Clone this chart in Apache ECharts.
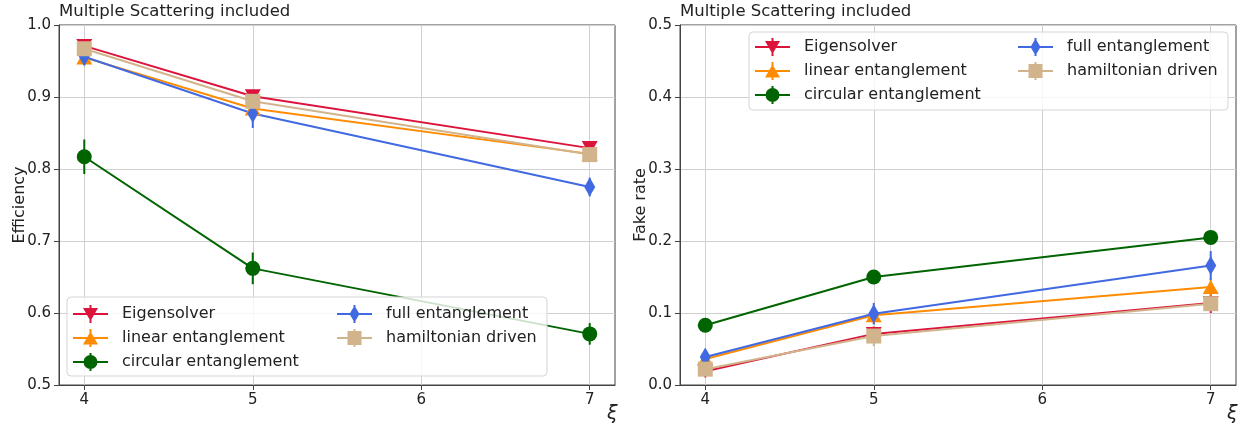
<!DOCTYPE html>
<html>
<head>
<meta charset="utf-8">
<script src="https://cdn.jsdelivr.net/npm/echarts@6/dist/echarts.min.js"></script>
<style>
  html, body { margin: 0; padding: 0; background: #fff; }
  #chart { width: 1244px; height: 427px; }
</style>
</head>
<body>
<div id="chart"></div>
<script>
const xi = [4, 5, 7]
const xTicks = [4, 5, 6, 7]
const names = ['Eigensolver', 'linear entanglement', 'circular entanglement', 'full entanglement', 'hamiltonian driven']

// efficiency (left)
const effEigen = [0.971, 0.901, 0.829]
const effLinear = [0.955, 0.884, 0.821]
const effCircular = [0.817, 0.662, 0.571]
const effFull = [0.956, 0.877, 0.775]
const effHamilton = [0.967, 0.894, 0.820]
const effEigenErr = [0.008, 0.008, 0.007]
const effLinearErr = [0.010, 0.012, 0.010]
const effCircularErr = [0.024, 0.022, 0.015]
const effFullErr = [0.012, 0.020, 0.013]
const effHamiltonErr = [0.008, 0.009, 0.008]

// fake rate (right)
const fakeEigen = [0.019, 0.071, 0.114]
const fakeLinear = [0.036, 0.097, 0.136]
const fakeCircular = [0.083, 0.150, 0.205]
const fakeFull = [0.039, 0.099, 0.166]
const fakeHamilton = [0.022, 0.068, 0.113]
const fakeEigenErr = [0.008, 0.010, 0.014]
const fakeLinearErr = [0.008, 0.012, 0.012]
const fakeCircularErr = [0.006, 0.008, 0.006]
const fakeFullErr = [0.008, 0.015, 0.020]
const fakeHamiltonErr = [0.008, 0.014, 0.010]

const colors = ['#dc143c', '#ff8c00', '#006400', '#4169e1', '#d2b48c']
const symbols = ['triangle', 'triangle', 'circle', 'diamond', 'rect']
const symbolRot = [180, 0, 0, 0, 0]
const symbolSizes = [[16, 14], [16, 14], 15, [11, 19], 15]

// legend icons: line + error bar + marker, drawn in a 35x18 box
const bars = 'M0 8 H35 V10 H0 Z M16.5 0 H18.5 V18 H16.5 Z '
const legendIcons = [
  'path://' + bars + 'M10 3 L25 3 L17.5 16 Z',
  'path://' + bars + 'M10 15.5 L17.5 2.5 L25 15.5 Z',
  'path://' + bars + 'M10.5 9 A7 7 0 1 1 24.5 9 A7 7 0 1 1 10.5 9 Z',
  'path://' + bars + 'M17.5 0.5 L22.5 9 L17.5 17.5 L12.5 9 Z',
  'path://' + bars + 'M10.5 2 H24.5 V16 H10.5 Z'
]

const effSets = [[effEigen, effEigenErr], [effLinear, effLinearErr], [effCircular, effCircularErr], [effFull, effFullErr], [effHamilton, effHamiltonErr]]
const fakeSets = [[fakeEigen, fakeEigenErr], [fakeLinear, fakeLinearErr], [fakeCircular, fakeCircularErr], [fakeFull, fakeFullErr], [fakeHamilton, fakeHamiltonErr]]

const FONT = 'DejaVu Sans'
const chart = echarts.init(document.getElementById('chart'))

const buildSeries = (sets, axisIdx) => {
  const out = []
  sets.forEach(([vals, errs], i) => {
    // error bars
    out.push({
      type: 'custom',
      xAxisIndex: axisIdx,
      yAxisIndex: axisIdx,
      silent: true,
      data: xi.map((x, k) => [x, vals[k], errs[k]]),
      renderItem: (params, api) => {
        const p1 = api.coord([api.value(0), api.value(1) - api.value(2)])
        const p2 = api.coord([api.value(0), api.value(1) + api.value(2)])
        return {
          type: 'line',
          shape: { x1: p1[0], y1: p1[1], x2: p2[0], y2: p2[1] },
          style: { stroke: colors[i], lineWidth: 2 }
        }
      }
    })
    out.push({
      name: names[i],
      type: 'line',
      xAxisIndex: axisIdx,
      yAxisIndex: axisIdx,
      data: xi.map((x, k) => [x, vals[k]]),
      symbol: symbols[i],
      symbolRotate: symbolRot[i],
      symbolSize: symbolSizes[i],
      showAllSymbol: true,
      color: colors[i],
      lineStyle: { color: colors[i], width: 2 },
      itemStyle: { color: colors[i] },
      emphasis: { disabled: true }
    })
  })
  return out
}

const xAxisBase = (gridIndex) => ({
  type: 'value',
  gridIndex,
  min: 3.85,
  max: 7.15,
  axisLine: { show: true, lineStyle: { color: '#444' } },
  axisTick: { show: true, length: 5, lineStyle: { color: '#444' }, customValues: xTicks },
  axisLabel: { color: '#222', fontSize: 15, fontFamily: FONT, margin: 8, customValues: xTicks },
  splitLine: { show: true, lineStyle: { color: '#d0d0d0' } }
})

const yAxisBase = (gridIndex, min, max, title) => ({
  type: 'value',
  gridIndex,
  min,
  max,
  interval: 0.1,
  name: title,
  nameLocation: 'middle',
  nameGap: 31,
  nameMoveOverlap: false,
  nameTextStyle: { color: '#222', fontSize: 16, fontFamily: FONT },
  axisLine: { show: true, lineStyle: { color: '#444' } },
  axisTick: { show: true, length: 5, lineStyle: { color: '#444' } },
  axisLabel: { color: '#222', fontSize: 15, fontFamily: FONT, margin: 8, formatter: v => v.toFixed(1) },
  splitLine: { show: true, lineStyle: { color: '#d0d0d0' } }
})

const legendBase = (left, top, idx) => ({
  orient: 'vertical',
  left,
  top,
  data: idx.map(i => ({ name: names[i], icon: legendIcons[i] })),
  padding: 0,
  itemWidth: 35,
  itemHeight: 18,
  itemGap: 6,
  z: 60,
  selectedMode: false,
  itemStyle: { borderWidth: 0 },
  textStyle: { color: '#222', fontSize: 16, fontFamily: FONT, lineHeight: 18, padding: [0, 0, 0, 9] }
})

const titleStyle = { color: '#222', fontSize: 16.5, fontWeight: 'normal', fontFamily: FONT }

const option = {
  animation: false,
  backgroundColor: '#fff',
  title: [
    { text: 'Multiple Scattering included', left: 59, top: 3, padding: 0, textStyle: titleStyle },
    { text: 'Multiple Scattering included', left: 680, top: 3, padding: 0, textStyle: titleStyle }
  ],
  grid: [
    { left: 59, top: 25, width: 556, height: 360, show: true, borderColor: '#444', borderWidth: 1, backgroundColor: 'transparent' },
    { left: 680, top: 25, width: 556, height: 360, show: true, borderColor: '#444', borderWidth: 1, backgroundColor: 'transparent' }
  ],
  xAxis: [xAxisBase(0), xAxisBase(1)],
  yAxis: [yAxisBase(0, 0.5, 1.0, 'Efficiency'), yAxisBase(1, 0, 0.5, 'Fake rate')],
  legend: [
    legendBase(73, 305, [0, 1, 2]),
    legendBase(337, 305, [3, 4]),
    legendBase(755, 38, [0, 1, 2]),
    legendBase(1018, 38, [3, 4])
  ],
  graphic: [
    { type: 'rect', z: 50, shape: { x: 67, y: 297, width: 480, height: 79, r: 4 }, style: { fill: 'rgba(255,255,255,0.8)', stroke: '#d5d5d5', lineWidth: 1 } },
    { type: 'rect', z: 50, shape: { x: 749, y: 32, width: 479, height: 78, r: 4 }, style: { fill: 'rgba(255,255,255,0.8)', stroke: '#d5d5d5', lineWidth: 1 } },
    { type: 'text', left: 607, top: 405, style: { text: 'ξ', fontSize: 19, fontStyle: 'italic', fontFamily: FONT, fill: '#222' } },
    { type: 'text', left: 1227, top: 405, style: { text: 'ξ', fontSize: 19, fontStyle: 'italic', fontFamily: FONT, fill: '#222' } }
  ],
  series: [...buildSeries(effSets, 0), ...buildSeries(fakeSets, 1)]
}

chart.setOption(option)
</script>
</body>
</html>
